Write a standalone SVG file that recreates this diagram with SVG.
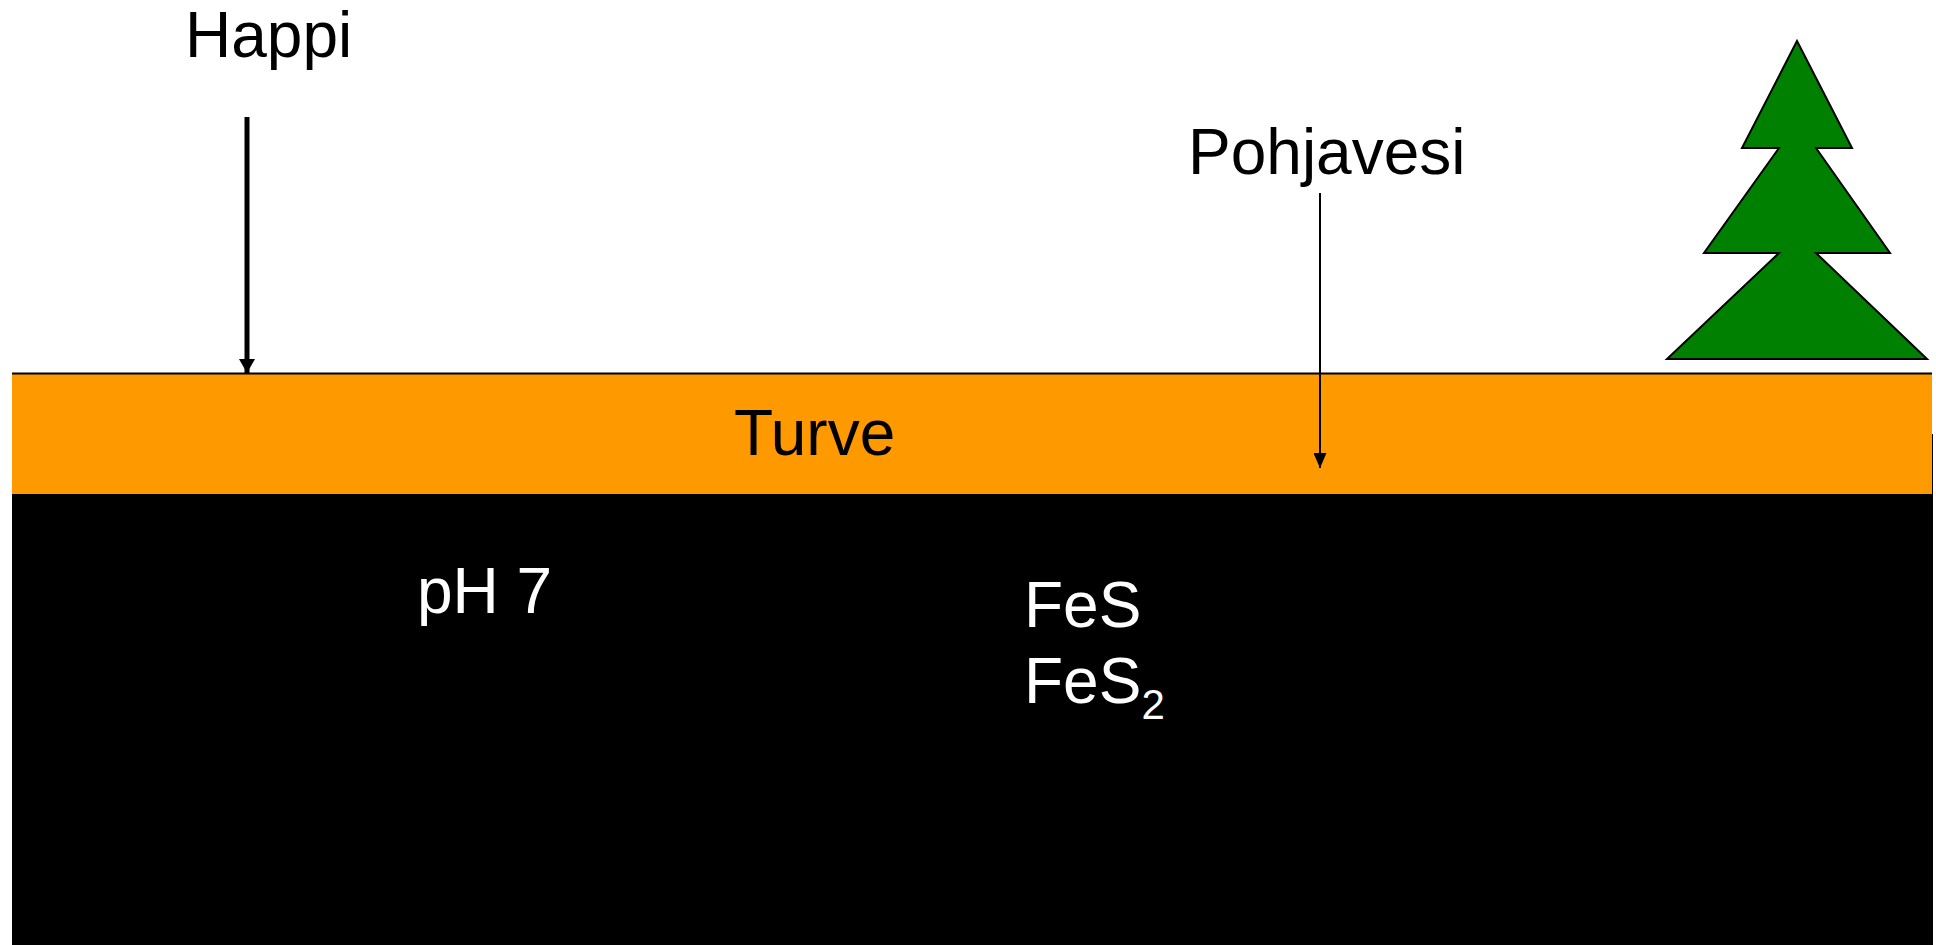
<svg xmlns="http://www.w3.org/2000/svg" width="1936" height="945" viewBox="0 0 1936 945">
  <style>
    .lbl { font-family: "Liberation Sans", Arial, sans-serif; font-size: 64px; }
    .dark { fill: #000000; }
    .light { fill: #ffffff; }
  </style>
  <defs>
    <marker id="headBold" markerUnits="userSpaceOnUse" markerWidth="14" markerHeight="16" refX="14" refY="8" orient="auto" viewBox="0 0 14 16">
      <path d="M0,0 L14,8 L0,16 Z" fill="#000000"/>
    </marker>
    <marker id="headThin" markerUnits="userSpaceOnUse" markerWidth="15" markerHeight="13" refX="15" refY="6.5" orient="auto" viewBox="0 0 15 13">
      <path d="M0,0 L15,6.5 L0,13 Z" fill="#000000"/>
    </marker>
  </defs>

  <rect width="1936" height="945" fill="#ffffff"/>

  <!-- soil layers -->
  <g id="bedrock">
    <rect x="12" y="434" width="1921" height="511" fill="#000000"/>
  </g>
  <g id="peat">
    <rect x="12" y="374" width="1920" height="120" fill="#ff9900"/>
    <text class="lbl dark" x="734" y="455">Turve</text>
  </g>
  <g id="ground-line">
    <line x1="12" y1="373.5" x2="1932" y2="373.5" stroke="#000000" stroke-width="2"/>
  </g>

  <!-- spruce -->
  <g id="tree">
    <polygon points="1797,41 1852,148 1816,148 1890,253 1816,253 1927,359 1667,359 1779,253 1704,253 1779,148 1742,148" fill="#008000" stroke="#000000" stroke-width="2" stroke-linejoin="miter"/>
  </g>

  <g id="oxygen">
    <text class="lbl dark" x="185" y="57">Happi</text>
  </g>
  <g id="groundwater">
    <text class="lbl dark" x="1188" y="174">Pohjavesi</text>
  </g>
  <g id="ph">
    <text class="lbl light" x="417" y="613">pH 7</text>
  </g>
  <g id="sulfides">
    <text class="lbl light" x="1024" y="627">FeS</text>
    <text class="lbl light" x="1024" y="703">FeS<tspan font-size="42" dy="16">2</tspan></text>
  </g>

  <!-- connectors -->
  <g id="connectors" stroke="#000000" fill="none">
    <line x1="247" y1="117" x2="247" y2="373" stroke-width="5" marker-end="url(#headBold)"/>
    <line x1="1320" y1="193" x2="1320" y2="468" stroke-width="2" marker-end="url(#headThin)"/>
  </g>
</svg>
